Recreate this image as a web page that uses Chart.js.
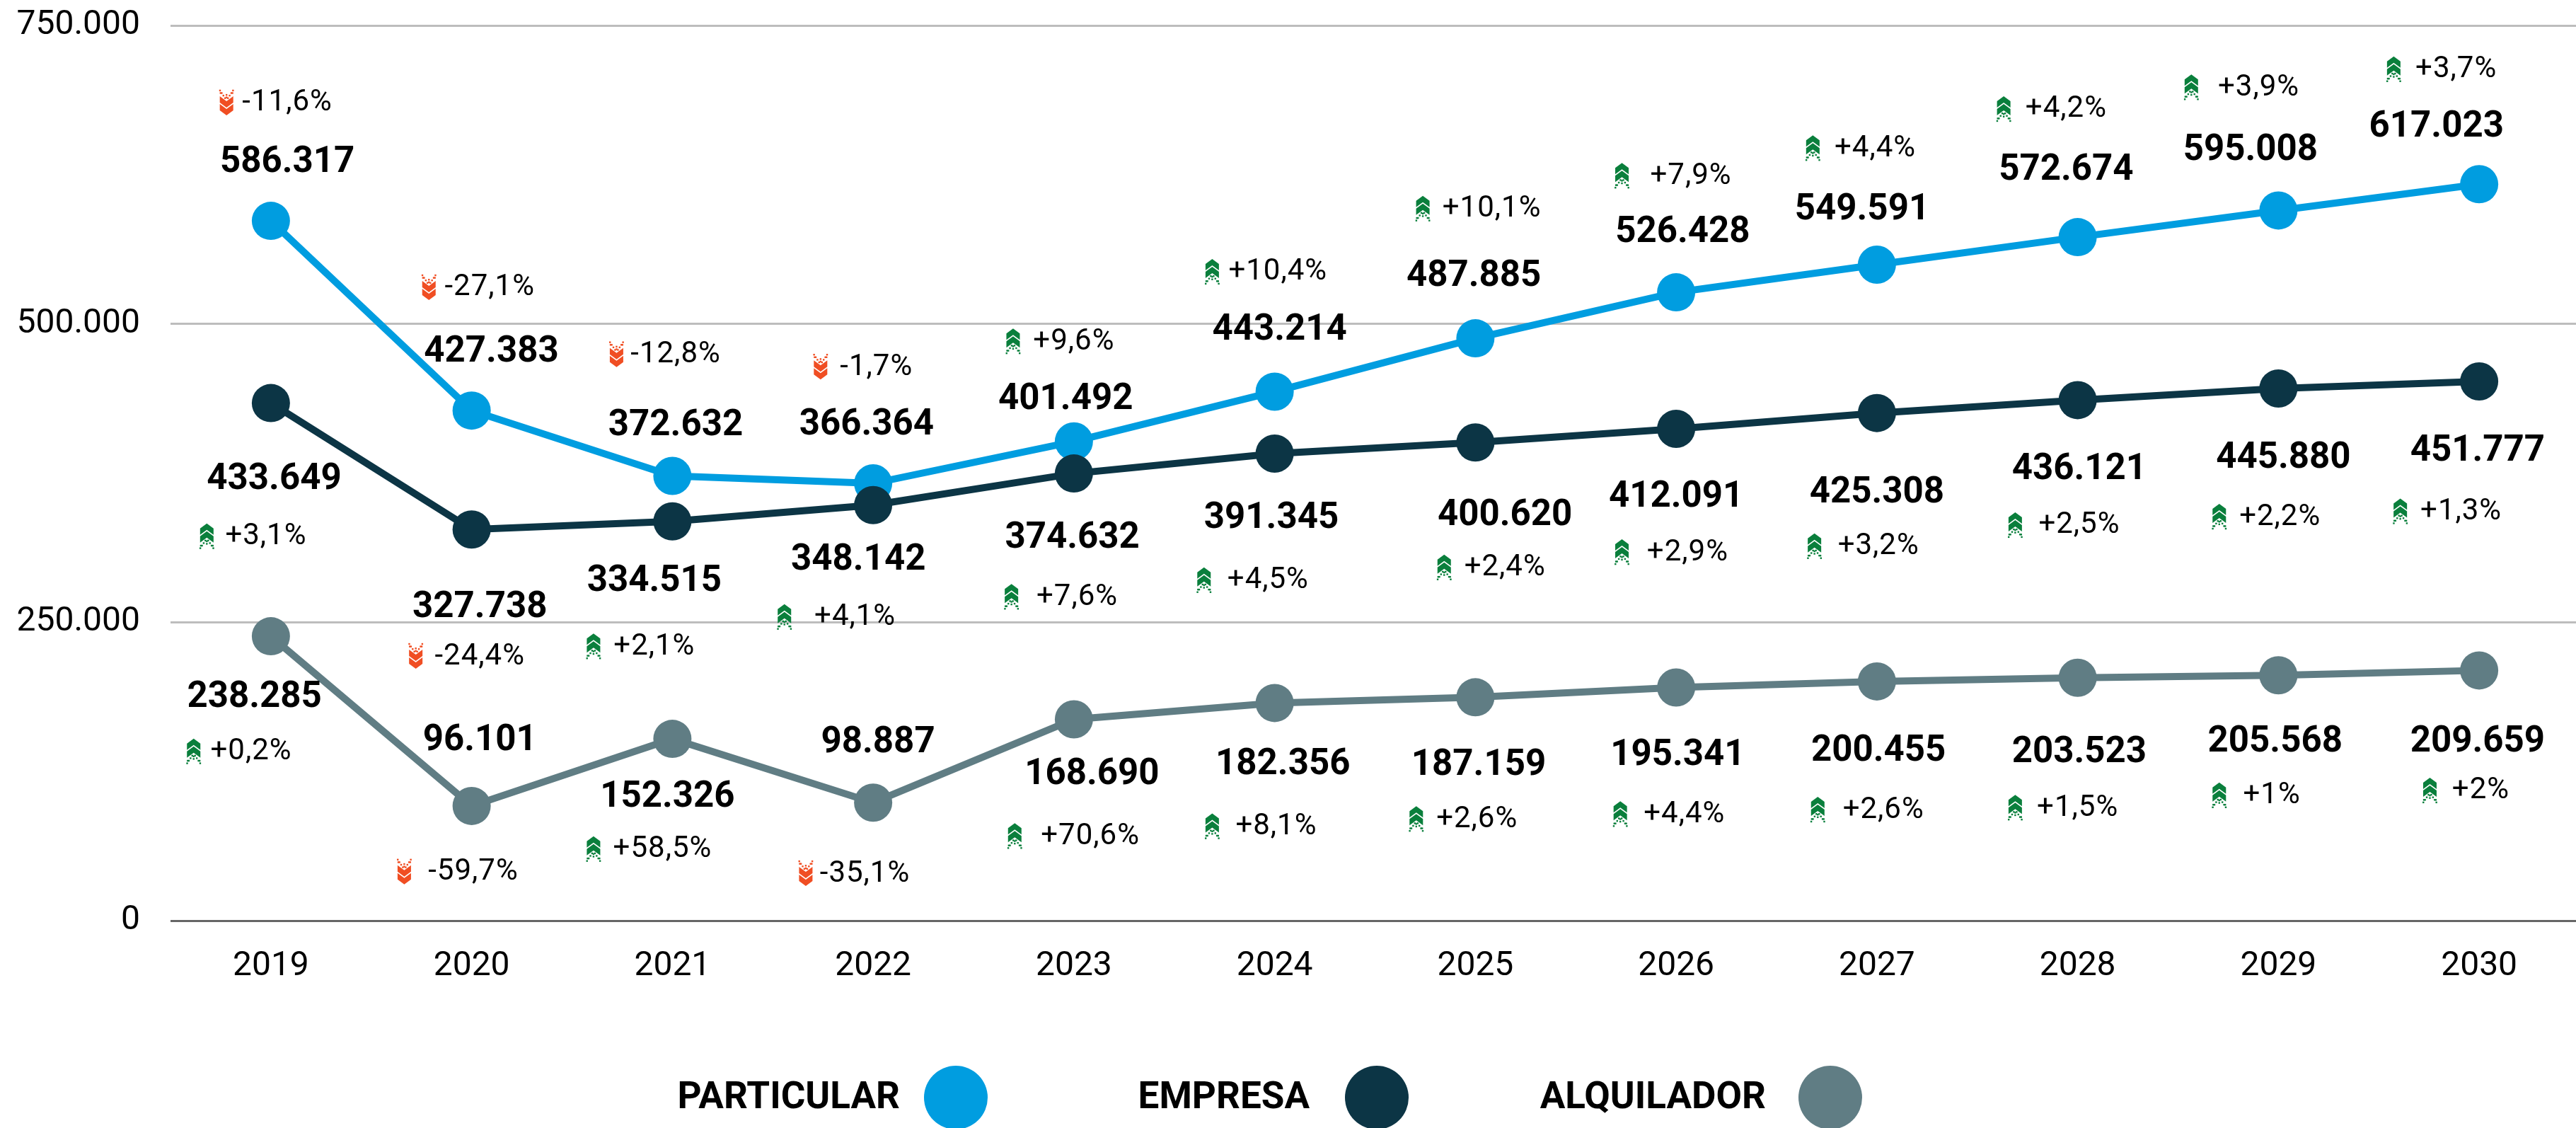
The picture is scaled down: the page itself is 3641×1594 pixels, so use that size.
<!DOCTYPE html>
<html>
<head>
<meta charset="utf-8">
<style>
  html, body { margin: 0; padding: 0; background: #fff; overflow: hidden; }
</style>
<script src="https://cdn.jsdelivr.net/npm/chart.js@4/dist/chart.umd.min.js"></script>
</head>
<body>
<!-- el area del grafico sigue 5 px mas alla del borde derecho de la ventana -->
<canvas id="chart" width="3646" height="1594"></canvas>
<script>
// Datos
const years = ['2019','2020','2021','2022','2023','2024','2025','2026','2027','2028','2029','2030'];
const particular = [586317,427383,372632,366364,401492,443214,487885,526428,549591,572674,595008,617023];
const empresa = [433649,327738,334515,348142,374632,391345,400620,412091,425308,436121,445880,451777];
const alquilador = [238285,96101,152326,98887,168690,182356,187159,195341,200455,203523,205568,209659];

const deltaParticular = ['-11,6%','-27,1%','-12,8%','-1,7%','+9,6%','+10,4%','+10,1%','+7,9%','+4,4%','+4,2%','+3,9%','+3,7%'];
const deltaEmpresa = ['+3,1%','-24,4%','+2,1%','+4,1%','+7,6%','+4,5%','+2,4%','+2,9%','+3,2%','+2,5%','+2,2%','+1,3%'];
const deltaAlquilador = ['+0,2%','-59,7%','+58,5%','-35,1%','+70,6%','+8,1%','+2,6%','+4,4%','+2,6%','+1,5%','+1%','+2%'];

const yTicks = [0, 250000, 500000, 750000];

// Desplazamientos de las etiquetas respecto a cada punto (medidos en la vista de 1568 px)
const K = 3641 / 1568;
const valueDxP = [10,12,2,-4,-5,3,-1,4,-9,-7,-17,-26];
const valueDyP = [-37,-37,-32,-37,-27,-39,-39,-38,-35,-42,-38,-36];
const deltaDxP = [10,11,2,2,0,2,10,9,-1,-7,-12,-14];
const deltaDyP = [-72,-75,-74,-71,-61,-73,-79,-71,-71,-78,-75,-70];
const iconDxP = [-27,-26,-34,-32,-37,-38,-32,-33,-39,-45,-53,-52];

const valueDxE = [2,5,-11,-9,-1,-2,18,0,0,1,3,-1];
const valueDyE = [45,46,35,32,38,38,43,40,47,41,41,41];
const deltaDxE = [-3,5,-11,-11,2,-4,18,7,1,1,1,-11];
const deltaDyE = [81,77,76,68,75,77,76,75,81,76,78,79];
const iconDxE = [-39,-34,-48,-54,-38,-43,-19,-33,-38,-38,-36,-48];

const valueDxA = [-10,5,-3,3,11,5,2,1,1,1,-2,-1];
const valueDyA = [36,-41,34,-38,32,36,40,40,41,44,39,42];
const deltaDxA = [-12,1,-6,-5,10,1,1,5,4,0,-4,1];
const deltaDyA = [70,40,67,43,71,75,74,77,78,79,73,73];
const iconDxA = [-47,-41,-48,-41,-36,-38,-36,-34,-36,-38,-36,-30];

const labelSets = [
  { delta: deltaParticular, vx: valueDxP, vy: valueDyP, dx: deltaDxP, dy: deltaDyP, ix: iconDxP },
  { delta: deltaEmpresa, vx: valueDxE, vy: valueDyE, dx: deltaDxE, dy: deltaDyE, ix: iconDxE },
  { delta: deltaAlquilador, vx: valueDxA, vy: valueDyA, dx: deltaDxA, dy: deltaDyA, ix: iconDxA }
];

const BLUE = '#009de0';
const DARK = '#0c3545';
const GREY = '#607d84';
const GREEN = '#0a7f3c';
const RED = '#f04e23';
const FONT = 'Roboto, sans-serif';

const formatNum = v => String(v).replace(/\B(?=(\d{3})+$)/g, '.');

// Icono de doble flecha con la parte punteada
const drawArrow = (ctx, x, y, up) => {
    ctx.save();
    ctx.translate(x, y);
    ctx.scale(1, up ? 1 : -1);
    ctx.fillStyle = up ? GREEN : RED;
    [-18, -7].forEach(top => {
        ctx.beginPath();
        ctx.moveTo(0, top);
        ctx.lineTo(9.5, top + 7);
        ctx.lineTo(9.5, top + 16);
        ctx.lineTo(0, top + 9);
        ctx.lineTo(-9.5, top + 16);
        ctx.lineTo(-9.5, top + 7);
        ctx.closePath();
        ctx.fill();
    });
    for (let r = 0; r < 4; r++) {
        const yy = 5 + r * 3.6;
        const off = 2 + r * 2.4;
        ctx.fillRect(off - 1.2, yy, 2.4, 2.4);
        ctx.fillRect(-off - 1.2, yy, 2.4, 2.4);
        if (r < 2) ctx.fillRect(-1.2, yy + 1, 2.4, 2.4);
        if (r === 3) {
            ctx.fillRect(7.2, yy - 3.6, 2.4, 2.4);
            ctx.fillRect(-9.6, yy - 3.6, 2.4, 2.4);
        }
    }
    ctx.restore();
};

// Etiquetas de valor y variacion
const labelsPlugin = {
    id: 'labelsPlugin',
    afterDatasetsDraw(chart) {
        const ctx = chart.ctx;
        ctx.save();
        ctx.textAlign = 'center';
        ctx.textBaseline = 'middle';
        labelSets.forEach((set, s) => {
            const points = chart.getDatasetMeta(s).data;
            const values = chart.data.datasets[s].data;
            points.forEach((p, i) => {
                ctx.fillStyle = '#000';
                ctx.font = 'bold 51px ' + FONT;
                ctx.letterSpacing = '0px';
                ctx.fillText(formatNum(values[i]), p.x + set.vx[i] * K, p.y + set.vy[i] * K + 4);
                ctx.font = '42px ' + FONT;
                ctx.letterSpacing = '1px';
                ctx.fillText(set.delta[i], p.x + set.dx[i] * K, p.y + set.dy[i] * K + 1);
                drawArrow(ctx, p.x + set.ix[i] * K, p.y + set.dy[i] * K, set.delta[i][0] === '+');
            });
        });
        ctx.restore();
    }
};

// Leyenda: texto a la izquierda del circulo
const legendCircleX = [1351, 1946, 2587];
const legendTextRight = [1272, 1851, 2496];
const legendPlugin = {
    id: 'legendPlugin',
    afterDraw(chart) {
        const ctx = chart.ctx;
        const y = 1551;
        ctx.save();
        ctx.textAlign = 'right';
        ctx.textBaseline = 'middle';
        ctx.font = 'bold 53px ' + FONT;
        chart.data.datasets.forEach((ds, s) => {
            ctx.fillStyle = '#000';
            ctx.fillText(ds.label, legendTextRight[s], y + 2);
            ctx.fillStyle = ds.borderColor;
            ctx.beginPath();
            ctx.arc(legendCircleX[s], y, 45, 0, Math.PI * 2);
            ctx.fill();
        });
        ctx.restore();
    }
};

const makeSeries = (label, data, color, order) => ({
    label: label,
    data: data,
    borderColor: color,
    backgroundColor: color,
    borderWidth: 10,
    pointRadius: 27,
    pointHoverRadius: 27,
    pointBorderWidth: 0,
    tension: 0,
    fill: false,
    order: order,
    clip: false
});

new Chart(document.getElementById('chart').getContext('2d'), {
    type: 'line',
    data: {
        labels: years,
        datasets: [
            makeSeries('PARTICULAR', particular, BLUE, 3),
            makeSeries('EMPRESA', empresa, DARK, 2),
            makeSeries('ALQUILADOR', alquilador, GREY, 1)
        ]
    },
    options: {
        responsive: false,
        animation: false,
        layout: { autoPadding: false, padding: { top: 36, left: 0, right: 0, bottom: 0 } },
        plugins: { legend: { display: false }, tooltip: { enabled: false } },
        scales: {
            x: {
                type: 'category',
                offset: true,
                afterFit: s => { s.height = 293; s.paddingLeft = 0; s.paddingRight = 0; },
                grid: { display: false },
                border: { display: false },
                ticks: {
                    color: '#000',
                    padding: 28,
                    maxRotation: 0,
                    autoSkip: false,
                    font: { family: FONT, size: 48 }
                }
            },
            y: {
                min: 0,
                max: 750000,
                afterFit: s => { s.width = 241; s.paddingTop = 0; s.paddingBottom = 0; },
                afterBuildTicks: s => { s.ticks = yTicks.map(v => ({ value: v })); },
                grid: {
                    drawTicks: false,
                    lineWidth: 3,
                    color: c => c.tick.value === 0 ? '#666666' : '#bdbdbd'
                },
                border: { display: false },
                ticks: {
                    color: '#000',
                    padding: 43,
                    font: { family: FONT, size: 48 },
                    callback: v => formatNum(v)
                }
            }
        }
    },
    plugins: [labelsPlugin, legendPlugin]
});
</script>
</body>
</html>
